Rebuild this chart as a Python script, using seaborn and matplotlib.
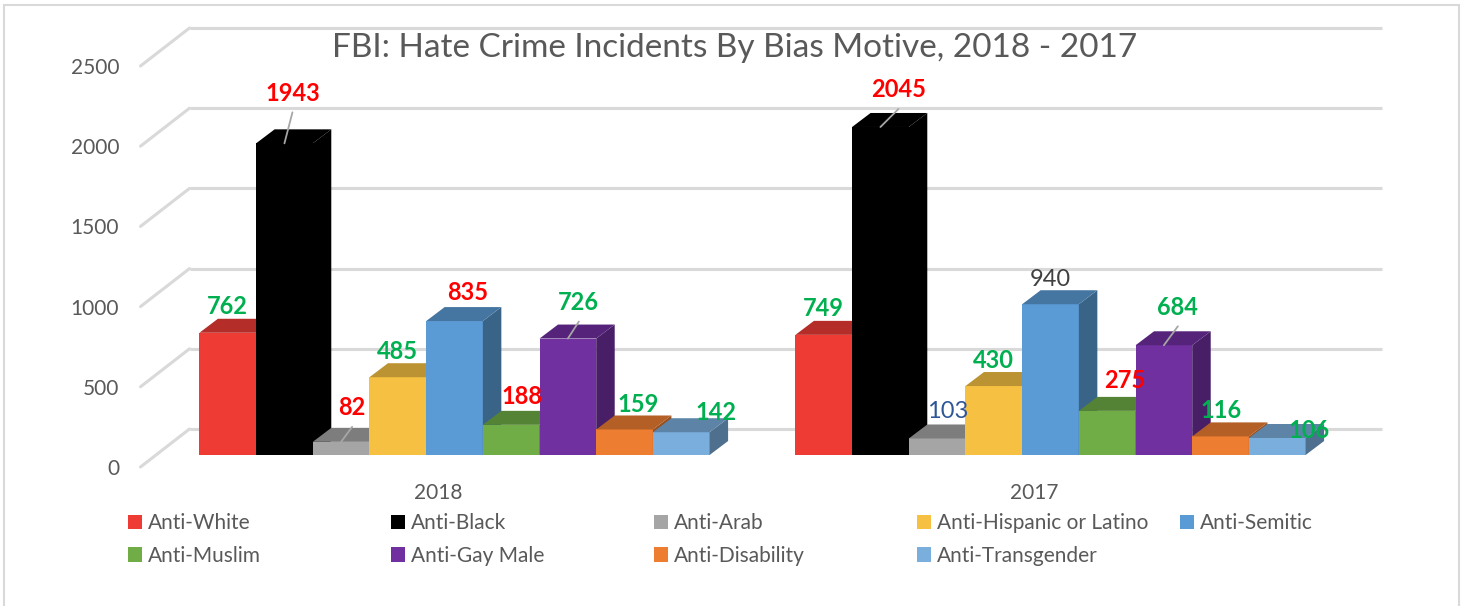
"""FBI hate crime incidents by bias motive, 2018 vs 2017 (Excel-style 3D columns)."""

import matplotlib

matplotlib.use("Agg")

import matplotlib.pyplot as plt
import matplotlib.transforms as mtransforms
import numpy as np
import pandas as pd
import seaborn as sns
from matplotlib.patches import Patch, Polygon, Rectangle

years = ["2018", "2017"]
motives = [
    "Anti-White",
    "Anti-Black",
    "Anti-Arab",
    "Anti-Hispanic or Latino",
    "Anti-Semitic",
    "Anti-Muslim",
    "Anti-Gay Male",
    "Anti-Disability",
    "Anti-Transgender",
]
incidents_2018 = [762, 1943, 82, 485, 835, 188, 726, 159, 142]
incidents_2017 = [749, 2045, 103, 430, 940, 275, 684, 116, 106]
y_ticks = [0, 500, 1000, 1500, 2000, 2500]

RED, GREEN, BLUE, GREY = "#FF0000", "#00B050", "#2F5597", "#404040"
label_colors_2018 = [GREEN, RED, RED, GREEN, RED, RED, GREEN, GREEN, GREEN]
label_colors_2017 = [GREEN, RED, BLUE, GREEN, GREY, RED, GREEN, GREEN, GREEN]
label_bold_2017 = [True, True, False, True, False, True, True, True, True]

front_colors = ["#EE3B34", "#000000", "#A5A5A5", "#F6C142", "#5B9BD5",
                "#70AD47", "#7030A0", "#ED7D31", "#7AAEDC"]

TEXT = "#595959"
GRID = "#D9D9D9"

# label nudges in pixels relative to the bar's top-front centre (Excel kept manual positions)
default_nudge = (0, 27)
nudges = {
    ("2018", "Anti-Black"): (8, 51),
    ("2018", "Anti-Arab"): (11, 35),
    ("2018", "Anti-Semitic"): (13, 30),
    ("2018", "Anti-Muslim"): (11, 29),
    ("2018", "Anti-Gay Male"): (11, 37),
    ("2018", "Anti-Disability"): (14, 26),
    ("2018", "Anti-Transgender"): (35, 21),
    ("2017", "Anti-Black"): (18, 38),
    ("2017", "Anti-Arab"): (11, 29),
    ("2017", "Anti-Muslim"): (18, 31),
    ("2017", "Anti-Gay Male"): (14, 39),
    ("2017", "Anti-Transgender"): (32, 8),
}
leaders = {("2018", "Anti-Black"), ("2018", "Anti-Arab"), ("2018", "Anti-Gay Male"),
           ("2017", "Anti-Black"), ("2017", "Anti-Gay Male")}

sns.set_theme(style="white")
plt.rcParams["font.family"] = ["Lato", "DejaVu Sans"]

W, H, DPI = 1468, 606, 100
fig = plt.figure(figsize=(W / DPI, H / DPI), dpi=DPI)
ax = fig.add_axes([156.5 / W, (H - 455) / H, 1192 / W, 401 / H])

df = pd.DataFrame({
    "year": np.repeat(years, len(motives)),
    "motive": motives * len(years),
    "incidents": incidents_2018 + incidents_2017,
})

sns.barplot(data=df, x="year", y="incidents", hue="motive", order=years,
            hue_order=motives, palette=front_colors, width=0.856, saturation=1,
            errorbar=None, legend=False, linewidth=0, ax=ax)

ax.set_xlim(-0.5, 1.5)
ax.set_ylim(0, 2500)
sns.despine(ax=ax, left=True, bottom=True)
ax.grid(False)
ax.set_xlabel("")
ax.set_ylabel("")

ppx = 1192 / 2.0     # pixels per x unit
ppy = 401 / 2500.0   # pixels per y unit


def shade(color, f):
    r, g, b = matplotlib.colors.to_rgb(color)
    return (r * f, g * f, b * f)


# back wall + left wall lines
back_dx, back_dy = 33 / ppx, 26 / ppy
front_dx, front_dy = -16 / ppx, -12 / ppy
x0, x1 = ax.get_xlim()
for v in y_ticks:
    ax.plot([x0 + back_dx, x1 + back_dx], [v + back_dy, v + back_dy],
            color=GRID, lw=2.2, zorder=1, clip_on=False, solid_capstyle="butt")
    ax.plot([x0 + front_dx, x0 + back_dx], [v + front_dy, v + back_dy],
            color=GRID, lw=2.2, zorder=1, clip_on=False)

# 3D depth faces for each bar
ddx, ddy = 18.5 / ppx, 14 / ppy
for i, (motive, container) in enumerate(zip(motives, ax.containers)):
    color = front_colors[i]
    for j, bar in enumerate(container):
        z = 3 + i * 0.01
        bar.set_zorder(z)
        bx, bw, bh = bar.get_x(), bar.get_width(), bar.get_height()
        top = Polygon([(bx, bh), (bx + bw, bh), (bx + bw + ddx, bh + ddy), (bx + ddx, bh + ddy)],
                      closed=True, facecolor=shade(color, 0.76), edgecolor="none",
                      zorder=z, clip_on=False)
        side = Polygon([(bx + bw, 0), (bx + bw + ddx, ddy), (bx + bw + ddx, bh + ddy), (bx + bw, bh)],
                       closed=True, facecolor=shade(color, 0.64), edgecolor="none",
                       zorder=z, clip_on=False)
        ax.add_patch(side)
        ax.add_patch(top)

        year = years[j]
        cx = bx + bw / 2
        ndx, ndy = nudges.get((year, motive), default_nudge)
        if year == "2018":
            lc, bold = label_colors_2018[i], True
        else:
            lc, bold = label_colors_2017[i], label_bold_2017[i]
        ax.text(cx + ndx / ppx, bh + (ndy - 8.5) / ppy, f"{int(round(bh))}",
                ha="center", va="baseline", fontsize=17, color=lc,
                fontweight="bold" if bold else "normal", zorder=10, clip_on=False)
        if (year, motive) in leaders:
            ax.plot([cx + ndx / ppx, cx], [bh + (ndy - 20) / ppy, bh],
                    color="#A6A6A6", lw=1.3, zorder=9, clip_on=False)

# axis tick labels, shifted to the front edge of the floor
ax.set_yticks(y_ticks)
ax.set_yticklabels([str(v) for v in y_ticks])
ax.set_xticks(range(len(years)))
ax.set_xticklabels(years)
ax.tick_params(axis="y", length=0, pad=37.5 * 72 / DPI, labelsize=15, labelcolor=TEXT)
ax.tick_params(axis="x", length=0, pad=28 * 72 / DPI, labelsize=15, labelcolor=TEXT)
shift_y = mtransforms.ScaledTranslation(0, -12 / DPI, fig.dpi_scale_trans)
shift_x = mtransforms.ScaledTranslation(-16 / DPI, 0, fig.dpi_scale_trans)
for lab in ax.get_yticklabels():
    lab.set_transform(lab.get_transform() + shift_y)
for lab in ax.get_xticklabels():
    lab.set_transform(lab.get_transform() + shift_x)

fig.text(734.5 / W, (H - 48) / H, "FBI: Hate Crime Incidents By Bias Motive, 2018 - 2017",
         ha="center", va="center", fontsize=24, color=TEXT)

# legend: Excel-style fixed-width columns, two rows
ncols = 5
for c in range(ncols):
    idx = [k for k in (c, c + ncols) if k < len(motives)]
    handles = [Patch(facecolor=front_colors[k], edgecolor="none") for k in idx]
    fig.legend(handles, [motives[k] for k in idx], loc="upper left",
               bbox_to_anchor=((128 + c * 263) / W, (H - 513) / H),
               frameon=False, fontsize=15, handlelength=0.68, handleheight=0.68,
               handletextpad=0.28, labelspacing=0.62, borderpad=0, borderaxespad=0,
               labelcolor=TEXT)

fig.add_artist(Rectangle((4 / W, -0.02), 1455 / W, (H - 5) / H + 0.02,
                         transform=fig.transFigure, fill=False, edgecolor=GRID, lw=1.5))

fig.savefig("out.png", dpi=DPI, facecolor="white")
